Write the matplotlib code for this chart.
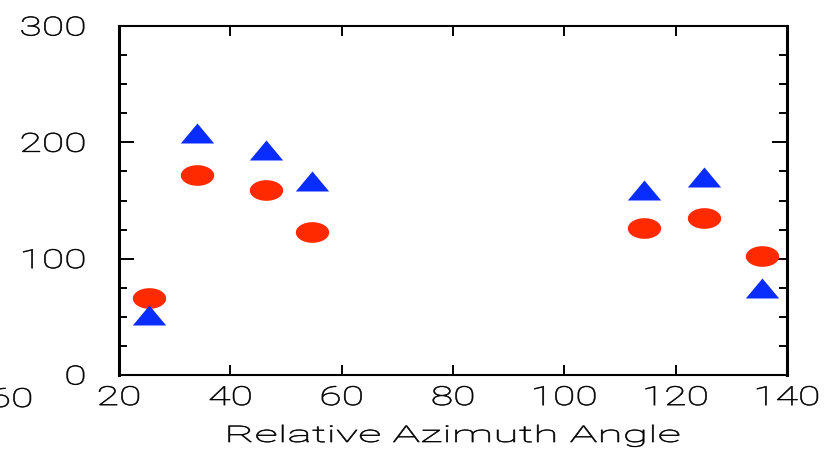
import numpy as np
import matplotlib
matplotlib.use("Agg")
import matplotlib.pyplot as plt
from matplotlib.path import Path
from matplotlib.markers import MarkerStyle
from matplotlib.ticker import MultipleLocator
from matplotlib.transforms import Affine2D
import matplotlib.patheffects as pe

# Measured values
azimuth = [25.3, 34.1, 46.4, 54.7, 114.4, 125.1, 135.5]
series_triangle = [52, 208, 193, 167, 159, 170, 75]
series_circle = [66, 172, 159, 123, 126, 135, 102]
x_ticks = [20, 40, 60, 80, 100, 120, 140]
y_ticks = [0, 100, 200, 300]
x_label = "Relative Azimuth Angle"

BLUE = "#0a2dff"
RED = "#ff2a00"


class HStretch(pe.AbstractPathEffect):
    """Widen rendered glyphs horizontally about a chosen anchor,
    with a thin outline to firm up the strokes."""

    def __init__(self, sx, anchor="center", outline=0.45):
        super().__init__()
        self.sx = sx
        self.anchor = anchor
        self.outline = outline

    def draw_path(self, renderer, gc, tpath, affine, rgbFace=None):
        bb = tpath.get_extents(affine)
        if self.anchor == "right":
            cx = bb.x1
        elif self.anchor == "left":
            cx = bb.x0
        else:
            cx = 0.5 * (bb.x0 + bb.x1)
        a = affine + Affine2D().translate(-cx, 0).scale(self.sx, 1).translate(cx, 0)
        gc0 = renderer.new_gc()
        gc0.copy_properties(gc)
        gc0 = self._update_gc(gc0, {"linewidth": self.outline})
        renderer.draw_path(gc0, tpath, a, rgbFace)
        gc0.restore()


# Wide ellipse and wide triangle marker shapes
t = np.linspace(0, 2 * np.pi, 64)
ellipse = Path(np.column_stack([np.cos(t), 0.62 * np.sin(t)]), closed=True)
triangle = Path([(-1, -0.6), (1, -0.6), (0, 0.6), (-1, -0.6)], closed=True)

plt.rcParams["font.family"] = ["Roboto", "DejaVu Sans"]
plt.rcParams["font.weight"] = "light"
plt.rcParams["axes.labelweight"] = "light"

fig = plt.figure(figsize=(8.27, 4.5), dpi=100)
ax = fig.add_axes([119 / 827, 75 / 450, 668 / 827, 349 / 450])

ax.plot(azimuth, series_circle, linestyle="none", marker=MarkerStyle(ellipse),
        markersize=24, color=RED, markeredgewidth=0)
ax.plot(azimuth, series_triangle, linestyle="none", marker=MarkerStyle(triangle),
        markersize=24, color=BLUE, markeredgewidth=0)

ax.set_xlim(20, 140)
ax.set_ylim(0, 300)
ax.set_xticks(x_ticks)
ax.set_yticks(y_ticks)
ax.yaxis.set_minor_locator(MultipleLocator(25))

ax.tick_params(axis="both", which="both", direction="in", top=True, right=True,
               colors="black", width=1.4)
ax.tick_params(axis="y", which="major", length=11, pad=24, labelsize=19)
ax.tick_params(axis="y", which="minor", length=5.5)
ax.tick_params(axis="x", which="major", length=7.5, pad=8, labelsize=19)

for side in ("left", "right"):
    ax.spines[side].set_linewidth(2.2)
for side in ("top", "bottom"):
    ax.spines[side].set_linewidth(1.5)

for lbl in ax.get_xticklabels():
    lbl.set_path_effects([HStretch(1.55, "center")])
for lbl in ax.get_yticklabels():
    lbl.set_path_effects([HStretch(1.55, "right")])

ax.set_xlabel(x_label, fontsize=16.5, fontweight="light", va="baseline")
ax.xaxis.set_label_coords(0.5, -0.192)
ax.xaxis.label.set_path_effects([HStretch(2.02, "center")])

# Stray tick text at the far left edge
stray = fig.text(11 / 827, 1 - 407 / 450, "60", fontsize=19, ha="center",
                 va="baseline")
stray.set_path_effects([HStretch(1.55, "center")])

fig.savefig("out.png", dpi=100)
